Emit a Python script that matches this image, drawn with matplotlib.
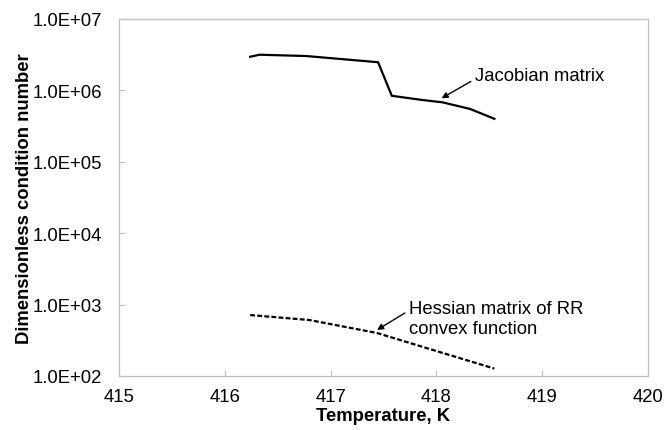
import matplotlib
matplotlib.use("Agg")
import matplotlib.pyplot as plt
from matplotlib.ticker import FixedLocator, FuncFormatter

plt.rcParams["font.family"] = ["Liberation Sans", "DejaVu Sans"]

# Condition number of the Jacobian matrix vs temperature
jac_temp = [416.24, 416.33, 416.77, 417.45, 417.58, 417.85, 418.06, 418.32, 418.55]
jac_cond = [2.96e6, 3.16e6, 3.03e6, 2.48e6, 8.4e5, 7.4e5, 6.8e5, 5.5e5, 4.0e5]

# Condition number of the Hessian of the RR convex function vs temperature
hes_temp = [416.24, 416.80, 417.44, 418.00, 418.55]
hes_cond = [714, 608, 400, 224, 127]

x_ticks = [415, 416, 417, 418, 419, 420]
y_ticks = [1e2, 1e3, 1e4, 1e5, 1e6, 1e7]

fig = plt.figure(figsize=(6.65, 4.31), dpi=100)
ax = fig.add_axes([0.179, 0.1253, 0.795, 0.8283])

ax.plot(jac_temp, jac_cond, color="black", lw=1.6, solid_joinstyle="miter")
ax.plot(hes_temp, hes_cond, color="black", lw=1.6, dashes=(2.2, 1.0))

ax.set_yscale("log")
ax.set_xlim(415, 420)
ax.set_ylim(1e2, 1e7)
ax.xaxis.set_major_locator(FixedLocator(x_ticks))
ax.yaxis.set_major_locator(FixedLocator(y_ticks))
ax.yaxis.set_minor_locator(FixedLocator([]))
ax.yaxis.set_major_formatter(FuncFormatter(lambda v, p: f"{v:.1E}"))

for s in ax.spines.values():
    s.set_color("#bfbfbf")
    s.set_linewidth(0.9)

ax.tick_params(axis="both", which="major", direction="in", length=4,
               width=0.8, color="#bfbfbf", labelsize=13.3, labelcolor="black")
ax.tick_params(axis="y", pad=12)
ax.tick_params(axis="x", pad=9)

ax.set_xlabel("Temperature, K", fontsize=13.3, fontweight="bold", labelpad=1)
ax.set_ylabel("Dimensionless condition number", fontsize=13.3, fontweight="bold", labelpad=0)

arrow = dict(arrowstyle="-|>", color="black", lw=1.0, mutation_scale=9,
             shrinkA=1, shrinkB=0)
ax.annotate("Jacobian matrix", xy=(0.610, 0.778), xycoords="axes fraction",
            xytext=(0.673, 0.841), textcoords="axes fraction",
            fontsize=13.3, ha="left", va="center",
            arrowprops=dict(arrow, relpos=(0, 0.3)))
ax.annotate("Hessian matrix of RR\nconvex function", xy=(0.488, 0.129),
            xycoords="axes fraction", xytext=(0.548, 0.1605),
            textcoords="axes fraction", fontsize=13.3, ha="left", va="center",
            linespacing=1.2, arrowprops=dict(arrow, relpos=(0, 0.72)))

fig.savefig("out.png", dpi=100)
